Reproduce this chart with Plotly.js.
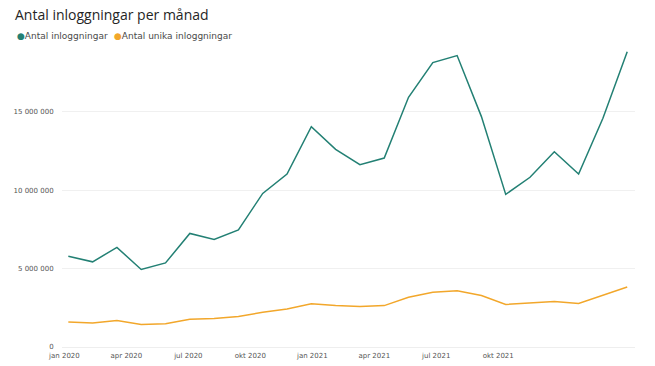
<!DOCTYPE html>
<html>
<head>
<meta charset="utf-8">
<script src="https://cdn.plot.ly/plotly-3.0.1.min.js"></script>
<style>html,body{margin:0;padding:0;background:#fff;}#chart{width:655px;height:366px;}</style>
</head>
<body>
<div id="chart"></div>
<script>
// Months Jan 2020 – Dec 2021
const months = ['2020-01','2020-02','2020-03','2020-04','2020-05','2020-06','2020-07','2020-08','2020-09','2020-10','2020-11','2020-12',
                '2021-01','2021-02','2021-03','2021-04','2021-05','2021-06','2021-07','2021-08','2021-09','2021-10','2021-11','2021-12'];
const logins = [5790000,5430000,6350000,4940000,5360000,7240000,6860000,7470000,9790000,11030000,14050000,12600000,
                11620000,12050000,15920000,18130000,18580000,14690000,9730000,10820000,12450000,11030000,14580000,18820000];
const uniqueLogins = [1600000,1530000,1690000,1430000,1490000,1770000,1810000,1940000,2210000,2430000,2750000,2640000,
                      2580000,2640000,3170000,3490000,3580000,3280000,2710000,2810000,2900000,2770000,3280000,3830000];
const tickLabels = ['jan 2020','apr 2020','jul 2020','okt 2020','jan 2021','apr 2021','jul 2021','okt 2021'];
const seriesNames = ['Antal inloggningar','Antal unika inloggningar'];
const colors = ['#238074','#f2a72b'];

const idx = months.map((m,i)=>i);
const tickPos = tickLabels.map((t,i)=> -0.16 + i*2.55);

const traces = [
  {x: idx, y: logins, name: seriesNames[0], type:'scatter', mode:'lines', line:{color:colors[0], width:1.5}, customdata: months},
  {x: idx, y: uniqueLogins, name: seriesNames[1], type:'scatter', mode:'lines', line:{color:colors[1], width:1.5}, customdata: months}
];

const plotL = 62, plotW = 573, plotT = 49, plotH = 298;
const legendX = [15, 112];
const layout = {
  width: 655, height: 366,
  margin: {l: plotL, r: 655-plotL-plotW, t: plotT, b: 366-plotT-plotH},
  paper_bgcolor: '#fff', plot_bgcolor: '#fff',
  separators: ', ',
  showlegend: false,
  font: {family: 'DejaVu Sans', size: 7, color: '#555'},
  title: {text: 'Antal inloggningar per månad', x: 15/655, xanchor: 'left', y: 1-15/366, yanchor: 'middle',
          font: {family: 'Open Sans', size: 14, color: '#252525'}},
  xaxis: {range: [-0.26, 23.32], tickvals: tickPos, ticktext: tickLabels, showgrid: false, zeroline: false,
          showline: false, ticks: 'outside', ticklen: 2, tickcolor: 'rgba(0,0,0,0)', tickfont: {size: 7, color: '#555'}, fixedrange: true},
  yaxis: {range: [0, 19000000], tickvals: [0,5000000,10000000,15000000], tickformat: ',d',
          showgrid: true, gridcolor: '#f0f0f0', gridwidth: 1, zeroline: true, zerolinecolor: '#eeeeee', zerolinewidth: 1,
          ticks: 'outside', ticklen: 6, tickcolor: 'rgba(0,0,0,0)', tickfont: {size: 7, color: '#555'}, fixedrange: true},
  annotations: seriesNames.map((n,i)=>({
     xref:'paper', yref:'paper', x: (legendX[i]-plotL)/plotW, y: 1+(plotT-36)/plotH, xanchor:'left', yanchor:'middle', showarrow:false,
     align:'left',
     text: '<span style="color:'+colors[i]+'">●</span>'+n,
     font:{family:'DejaVu Sans', size:9, color:'#4a4a4a'}}))
};
Plotly.newPlot('chart', traces, layout, {displayModeBar:false, staticPlot:true});
</script>
</body>
</html>
